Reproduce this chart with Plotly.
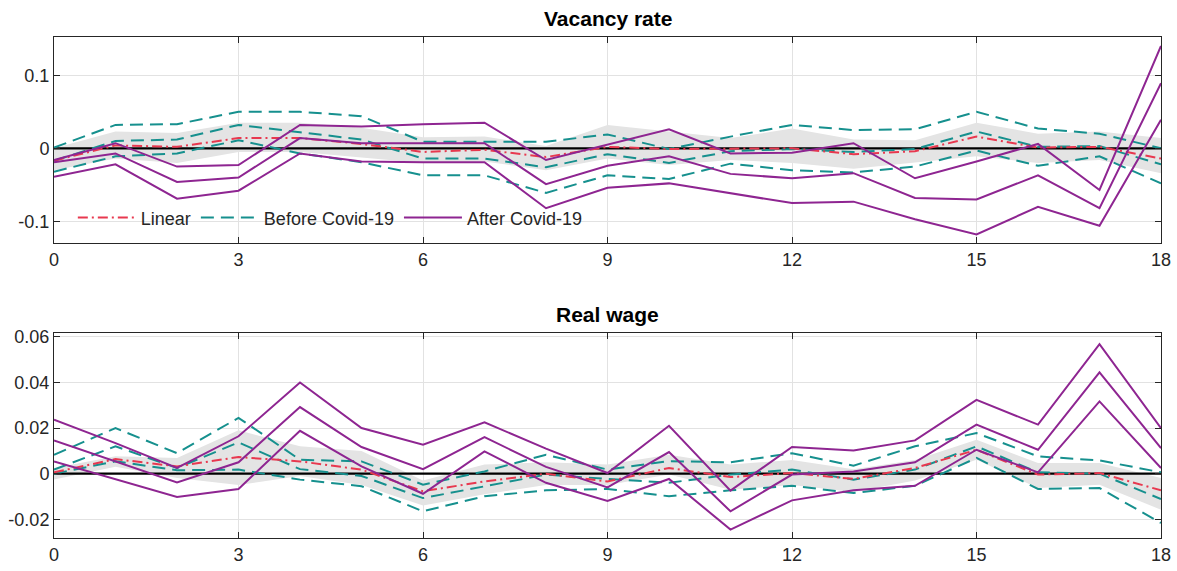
import plotly.graph_objects as go

# horizon (periods)
horizon = list(range(19))
x_ticks = [0, 3, 6, 9, 12, 15, 18]

# ---- Vacancy rate ----
vac_linear = [-0.017, 0.004, 0.002, 0.014, 0.014, 0.006, -0.005, -0.002, -0.012, 0.002,
              -0.001, -0.001, 0.000, -0.008, -0.004, 0.016, 0.001, 0.002, -0.014]
vac_band_hi = [0.000, 0.023, 0.021, 0.035, 0.035, 0.028, 0.015, 0.016, 0.003, 0.032,
               0.023, 0.014, 0.027, 0.012, 0.011, 0.035, 0.020, 0.023, 0.014]
vac_band_lo = [-0.030, -0.014, -0.020, -0.005, -0.005, -0.012, -0.020, -0.018, -0.030, -0.014,
               -0.023, -0.016, -0.020, -0.028, -0.020, -0.011, -0.020, -0.016, -0.034]
vac_before_hi = [0.001, 0.032, 0.033, 0.050, 0.050, 0.044, 0.009, 0.009, 0.009, 0.019,
                 -0.001, 0.016, 0.032, 0.025, 0.026, 0.050, 0.027, 0.020, 0.000]
vac_before_mid = [-0.017, 0.010, 0.012, 0.032, 0.022, 0.012, -0.014, -0.014, -0.026, -0.008,
                  -0.020, -0.004, -0.001, -0.005, -0.001, 0.023, 0.002, 0.003, -0.022]
vac_before_lo = [-0.032, -0.011, -0.007, 0.011, -0.007, -0.019, -0.037, -0.037, -0.061, -0.037,
                 -0.042, -0.021, -0.030, -0.033, -0.025, -0.003, -0.024, -0.011, -0.048]
vac_after_hi = [-0.016, 0.007, -0.025, -0.023, 0.032, 0.030, 0.033, 0.035, -0.016, 0.005,
                0.026, -0.007, -0.006, 0.007, -0.041, -0.018, 0.006, -0.057, 0.140]
vac_after_mid = [-0.019, -0.007, -0.046, -0.040, 0.014, 0.007, 0.007, 0.007, -0.049, -0.024,
                 -0.011, -0.035, -0.041, -0.034, -0.068, -0.070, -0.037, -0.082, 0.089]
vac_after_lo = [-0.039, -0.022, -0.069, -0.058, -0.007, -0.018, -0.019, -0.019, -0.082, -0.054,
                -0.048, -0.061, -0.075, -0.073, -0.097, -0.118, -0.080, -0.106, 0.039]
vac_yticks = [-0.1, 0, 0.1]
vac_yticklabels = ["-0.1", "0", "0.1"]

# ---- Real wage ----
rw_linear = [0.0006, 0.0064, 0.0032, 0.0073, 0.0054, 0.0018, -0.0077, -0.0034, 0.0000, -0.0034,
             0.0025, -0.0015, 0.0003, -0.0023, 0.0025, 0.0105, -0.0004, 0.0003, -0.0073]
rw_band_hi = [0.0025, 0.0076, 0.0069, 0.0190, 0.0120, 0.0100, -0.0030, 0.0040, 0.0050, 0.0040,
              0.0083, 0.0040, 0.0060, 0.0020, 0.0060, 0.0149, 0.0047, 0.0047, -0.0019]
rw_band_lo = [-0.0026, 0.0030, -0.0019, -0.0050, -0.0010, -0.0050, -0.0140, -0.0090, -0.0050, -0.0050,
              -0.0004, -0.0070, -0.0050, -0.0080, -0.0030, 0.0061, -0.0063, -0.0048, -0.0158]
rw_before_hi = [0.0083, 0.0200, 0.0090, 0.0245, 0.0061, 0.0054, -0.0048, 0.0010, 0.0083, 0.0018,
                0.0055, 0.0050, 0.0090, 0.0035, 0.0120, 0.0178, 0.0076, 0.0058, 0.0006]
rw_before_mid = [0.0018, 0.0120, 0.0025, 0.0137, 0.0020, -0.0010, -0.0107, -0.0055, -0.0004, -0.0023,
                 -0.0040, -0.0004, 0.0018, -0.0026, 0.0018, 0.0120, 0.0006, 0.0000, -0.0111]
rw_before_lo = [0.0000, 0.0054, 0.0015, 0.0018, -0.0026, -0.0055, -0.0165, -0.0099, -0.0073, -0.0067,
                -0.0099, -0.0073, -0.0053, -0.0085, -0.0053, 0.0069, -0.0067, -0.0063, -0.0216]
rw_after_hi = [0.0237, 0.0134, 0.0025, 0.0164, 0.0400, 0.0200, 0.0127, 0.0225, 0.0110, 0.0003,
               0.0210, -0.0074, 0.0117, 0.0102, 0.0146, 0.0324, 0.0215, 0.0568, 0.0200]
rw_after_mid = [0.0146, 0.0054, -0.0038, 0.0050, 0.0292, 0.0117, 0.0020, 0.0160, 0.0030, -0.0060,
                0.0095, -0.0165, -0.0004, 0.0010, 0.0050, 0.0215, 0.0105, 0.0444, 0.0112]
rw_after_lo = [0.0054, -0.0023, -0.0102, -0.0067, 0.0188, 0.0032, -0.0088, 0.0098, -0.0040, -0.0120,
               -0.0023, -0.0245, -0.0117, -0.0073, -0.0053, 0.0105, 0.0006, 0.0317, 0.0025]
rw_yticks = [-0.02, 0, 0.02, 0.04, 0.06]
rw_yticklabels = ["-0.02", "0", "0.02", "0.04", "0.06"]

RED = "#E8384F"
TEAL = "#16908E"
PURPLE = "#8E2591"
BAND = "#E4E4E4"
AXIS = "#262626"
GRID = "#E2E2E2"
FONT = "Liberation Sans, Arial, sans-serif"

fig = go.Figure()


def add_panel(xa, ya, lin, band_hi, band_lo, bef, aft, show):
    # linear-model confidence band
    fig.add_trace(go.Scatter(
        x=horizon + horizon[::-1], y=band_hi + band_lo[::-1],
        fill="toself", fillcolor=BAND, line=dict(width=0),
        mode="lines", hoverinfo="skip", showlegend=False, xaxis=xa, yaxis=ya))
    # zero reference
    fig.add_trace(go.Scatter(
        x=[horizon[0], horizon[-1]], y=[0, 0], mode="lines",
        line=dict(color="black", width=2.2), showlegend=False, xaxis=xa, yaxis=ya))
    for i, s in enumerate(bef):
        fig.add_trace(go.Scatter(
            x=horizon, y=s, mode="lines", name="Before Covid-19",
            line=dict(color=TEAL, width=2, dash="13px,7px"),
            showlegend=show and i == 0, legendrank=2, xaxis=xa, yaxis=ya))
    fig.add_trace(go.Scatter(
        x=horizon, y=lin, mode="lines", name="Linear",
        line=dict(color=RED, width=2, dash="10px,4px,2px,4px"),
        showlegend=show, legendrank=1, xaxis=xa, yaxis=ya))
    for i, s in enumerate(aft):
        fig.add_trace(go.Scatter(
            x=horizon, y=s, mode="lines", name="After Covid-19",
            line=dict(color=PURPLE, width=2),
            showlegend=show and i == 0, legendrank=3, xaxis=xa, yaxis=ya))


add_panel("x", "y", vac_linear, vac_band_hi, vac_band_lo,
          [vac_before_hi, vac_before_mid, vac_before_lo],
          [vac_after_hi, vac_after_mid, vac_after_lo], True)
add_panel("x2", "y2", rw_linear, rw_band_hi, rw_band_lo,
          [rw_before_hi, rw_before_mid, rw_before_lo],
          [rw_after_hi, rw_after_mid, rw_after_lo], False)

axis_common = dict(
    showline=True, linecolor=AXIS, linewidth=1, mirror="ticks",
    ticks="inside", ticklen=6, tickcolor=AXIS, tickwidth=1,
    showgrid=True, gridcolor=GRID, gridwidth=1, zeroline=False,
    tickfont=dict(family=FONT, size=18, color=AXIS),
)

TOP_DOMAIN = [0.5888, 1.0]
BOT_DOMAIN = [0.0, 0.4092]

fig.update_layout(
    width=1177, height=571,
    margin=dict(l=54, r=16, t=37, b=33, autoexpand=False),
    paper_bgcolor="white", plot_bgcolor="white",
    font=dict(family=FONT, size=18, color=AXIS),
    xaxis=dict(domain=[0, 1], range=[0, 18], tickvals=x_ticks, anchor="y",
               automargin=False, **axis_common),
    yaxis=dict(domain=TOP_DOMAIN, range=[-0.1296, 0.1523], tickvals=vac_yticks,
               ticktext=vac_yticklabels, anchor="x", automargin=False, **axis_common),
    xaxis2=dict(domain=[0, 1], range=[0, 18], tickvals=x_ticks, anchor="y2",
                automargin=False, **axis_common),
    yaxis2=dict(domain=BOT_DOMAIN, range=[-0.0282, 0.0617], tickvals=rw_yticks,
                ticktext=rw_yticklabels, anchor="x2", automargin=False, **axis_common),
    legend=dict(
        orientation="h", x=0.017, y=0.639, xanchor="left", yanchor="middle",
        bgcolor="rgba(255,255,255,0)", itemwidth=58,
        font=dict(family=FONT, size=18, color=AXIS), traceorder="normal",
    ),
    showlegend=True,
)

for text, ytop in [("Vacancy rate", TOP_DOMAIN[1]), ("Real wage", BOT_DOMAIN[1])]:
    fig.add_annotation(
        text="<b>" + text + "</b>", x=0.5, y=ytop, xref="paper", yref="paper",
        xanchor="center", yanchor="bottom", yshift=5, showarrow=False,
        font=dict(family=FONT, size=21, color="black"))

fig.write_html("out.html")
